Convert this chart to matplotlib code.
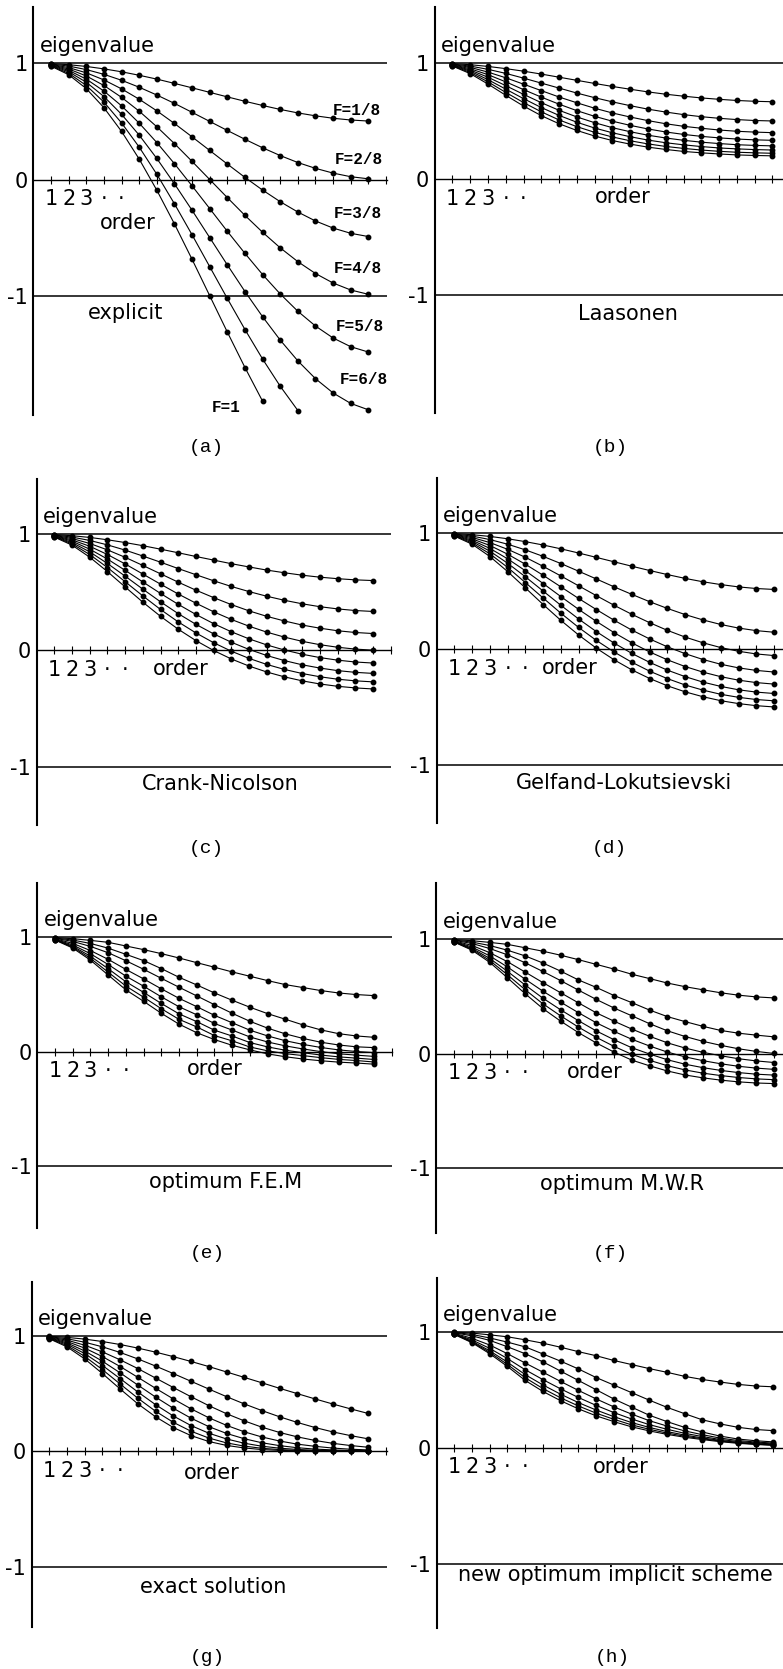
import matplotlib
matplotlib.use('Agg')
import matplotlib.pyplot as plt

W, H = 783, 1669

orders = list(range(1, 20))

# one list per scheme, curves for F = 1/8, 2/8, ... 8/8
explicit = [
    [.997, .988, .973, .952, .927, .897, .864, .827, .789, .750, .711, .673, .637, .603, .573, .548, .527, .512, .503],
    [.994, .976, .946, .905, .854, .794, .727, .655, .578, .500, .422, .346, .273, .206, .146, .096, .055, .024, .006],
    [.991, .963, .918, .857, .780, .691, .591, .482, .367, .250, .133, .018, -.091, -.191, -.280, -.357, -.418, -.463, -.491],
    [.988, .951, .891, .809, .707, .588, .454, .309, .156, 0, -.156, -.309, -.454, -.588, -.707, -.809, -.891, -.951, -.988],
    [.985, .939, .864, .761, .634, .485, .318, .136, -.055, -.250, -.446, -.636, -.818, -.985, -1.134, -1.261, -1.364, -1.439, -1.485],
    [.982, .927, .837, .714, .561, .382, .181, -.037, -.265, -.500, -.735, -.964, -1.181, -1.382, -1.561, -1.714, -1.837, -1.927, -1.982],
    [.978, .914, .809, .666, .487, .279, .045, -.209, -.476, -.750, -1.024, -1.291, -1.545, -1.779, -1.988],
    [.975, .902, .782, .618, .414, .176, -.092, -.382, -.687, -1.000, -1.313, -1.618, -1.908],
]

laasonen = [
    [.997, .988, .973, .954, .932, .907, .880, .853, .826, .800, .776, .753, .733, .716, .701, .689, .679, .672, .668],
    [.994, .976, .948, .913, .872, .829, .786, .743, .703, .667, .634, .604, .579, .557, .539, .525, .514, .506, .502],
    [.991, .965, .924, .875, .820, .764, .709, .659, .612, .571, .536, .505, .478, .456, .439, .424, .413, .406, .401],
    [.988, .953, .902, .840, .773, .708, .647, .591, .542, .500, .464, .433, .407, .386, .369, .356, .346, .339, .335],
    [.985, .942, .880, .807, .732, .660, .594, .537, .487, .444, .409, .379, .355, .335, .319, .307, .297, .291, .287],
    [.982, .932, .859, .777, .695, .618, .550, .491, .441, .400, .366, .337, .314, .296, .281, .269, .261, .255, .251],
    [.979, .921, .840, .749, .661, .581, .511, .453, .404, .364, .331, .304, .282, .265, .251, .240, .232, .227, .223],
    [.976, .911, .821, .724, .631, .548, .478, .420, .372, .333, .302, .276, .256, .239, .227, .217, .209, .204, .201],
]

crank_nicolson = [
    [.997, .988, .973, .953, .929, .902, .872, .841, .809, .778, .747, .719, .692, .669, .648, .631, .618, .608, .602],
    [.994, .976, .947, .909, .864, .813, .760, .705, .652, .600, .551, .507, .467, .432, .402, .377, .358, .344, .336],
    [.991, .964, .921, .866, .802, .732, .660, .588, .519, .455, .395, .341, .294, .254, .219, .192, .170, .155, .146],
    [.988, .952, .897, .826, .745, .658, .571, .486, .407, .333, .267, .209, .158, .115, .079, .050, .028, .012, .003],
    [.985, .941, .872, .787, .690, .590, .491, .397, .310, .231, .161, .100, .048, .004, -.032, -.061, -.083, -.099, -.108],
    [.982, .929, .849, .749, .640, .528, .419, .317, .225, .143, .071, .009, -.043, -.087, -.123, -.151, -.173, -.188, -.197],
    [.979, .918, .826, .714, .592, .470, .353, .246, .151, .067, -.006, -.068, -.120, -.163, -.198, -.226, -.247, -.261, -.270],
    [.976, .907, .803, .679, .547, .416, .294, .183, .085, .000, -.073, -.134, -.185, -.227, -.261, -.288, -.308, -.322, -.331],
]

gelfand = [
    [.997, .988, .973, .953, .928, .899, .866, .830, .792, .754, .716, .679, .644, .611, .582, .558, .538, .524, .516],
    [.994, .976, .946, .906, .857, .801, .739, .673, .606, .538, .473, .410, .352, .299, .253, .214, .183, .161, .147],
    [.991, .964, .920, .862, .793, .715, .632, .547, .462, .379, .301, .229, .163, .105, .056, .015, -.017, -.040, -.054],
    [.988, .952, .895, .820, .733, .638, .538, .438, .342, .250, .165, .089, .021, -.038, -.088, -.129, -.160, -.182, -.196],
    [.985, .940, .870, .780, .677, .567, .454, .344, .240, .143, .055, -.023, -.091, -.149, -.197, -.236, -.266, -.287, -.300],
    [.982, .929, .846, .742, .625, .502, .379, .261, .152, .053, -.036, -.113, -.180, -.236, -.283, -.320, -.349, -.369, -.381],
    [.979, .917, .823, .706, .575, .442, .311, .188, .076, -.024, -.112, -.189, -.253, -.308, -.352, -.388, -.414, -.433, -.444],
    [.976, .906, .800, .670, .529, .386, .249, .123, .009, -.091, -.178, -.252, -.315, -.367, -.409, -.443, -.468, -.486, -.497],
]

optimum_fem = [
    [.997, .988, .973, .956, .924, .892, .857, .819, .778, .738, .697, .659, .621, .586, .560, .534, .513, .499, .490],
    [.994, .976, .946, .905, .851, .796, .726, .650, .583, .513, .449, .388, .332, .283, .233, .190, .157, .137, .125],
    [.991, .964, .920, .865, .795, .720, .641, .563, .487, .410, .335, .265, .205, .155, .115, .082, .058, .042, .035],
    [.987, .947, .884, .807, .719, .636, .549, .466, .393, .317, .252, .187, .137, .095, .063, .036, .015, .001, -.009],
    [.983, .933, .856, .762, .660, .572, .479, .392, .322, .246, .188, .128, .084, .050, .023, .000, -.019, -.031, -.042],
    [.980, .922, .834, .725, .611, .518, .421, .330, .262, .187, .136, .079, .041, .012, -.010, -.030, -.046, -.057, -.069],
    [.978, .914, .816, .695, .573, .476, .375, .282, .216, .140, .094, .040, .007, -.018, -.035, -.053, -.068, -.078, -.091],
    [.976, .906, .800, .670, .540, .440, .335, .240, .165, .105, .055, .015, -.020, -.045, -.065, -.080, -.092, -.100, -.110],
]

optimum_mwr = [
    [.997, .988, .973, .956, .926, .896, .861, .822, .781, .740, .695, .657, .618, .586, .559, .533, .512, .497, .488],
    [.994, .976, .946, .905, .855, .793, .722, .645, .580, .509, .447, .382, .325, .281, .240, .204, .180, .163, .148],
    [.991, .964, .920, .865, .795, .719, .639, .556, .475, .400, .332, .263, .201, .151, .109, .074, .044, .021, .003],
    [.987, .947, .884, .805, .714, .622, .533, .445, .358, .285, .216, .153, .096, .050, .013, -.017, -.043, -.062, -.076],
    [.983, .933, .856, .759, .652, .547, .451, .359, .271, .196, .127, .068, .015, -.027, -.060, -.087, -.109, -.125, -.136],
    [.980, .922, .834, .721, .601, .486, .384, .289, .200, .123, .053, -.002, -.052, -.091, -.121, -.145, -.164, -.178, -.186],
    [.978, .914, .816, .691, .560, .437, .331, .233, .144, .065, -.005, -.057, -.104, -.141, -.169, -.190, -.207, -.219, -.226],
    [.976, .906, .800, .665, .525, .395, .285, .185, .095, .015, -.055, -.105, -.150, -.185, -.210, -.230, -.245, -.255, -.260],
]

exact = [
    [.997, .988, .973, .952, .926, .895, .860, .821, .779, .735, .688, .641, .594, .546, .500, .454, .410, .368, .328],
    [.994, .976, .946, .906, .857, .801, .739, .674, .607, .540, .474, .411, .353, .299, .250, .206, .168, .136, .108],
    [.991, .964, .920, .862, .793, .717, .635, .553, .473, .396, .326, .264, .209, .163, .125, .094, .069, .050, .035],
    [.988, .952, .895, .821, .735, .641, .546, .454, .368, .291, .225, .169, .124, .089, .062, .043, .028, .018, .012],
    [.985, .940, .870, .781, .680, .574, .470, .373, .287, .214, .155, .109, .074, .049, .031, .019, .012, .007, .004],
    [.982, .929, .847, .744, .630, .514, .404, .306, .223, .157, .107, .070, .044, .027, .016, .009, .005, .002, .001],
    [.979, .917, .823, .708, .583, .460, .347, .251, .174, .115, .073, .045, .026, .015, .008, .004, .002, .001, .000],
    [.976, .906, .801, .674, .540, .411, .299, .206, .136, .085, .051, .029, .015, .008, .004, .002, .001, .000, .000],
]

new_implicit = [
    [.997, .988, .973, .956, .930, .901, .866, .828, .793, .752, .717, .682, .650, .615, .588, .566, .546, .532, .525],
    [.994, .976, .946, .910, .869, .808, .746, .679, .605, .540, .475, .410, .348, .293, .240, .205, .176, .157, .147],
    [.991, .964, .925, .870, .810, .740, .660, .580, .500, .420, .350, .280, .225, .175, .135, .100, .075, .060, .050],
    [.986, .943, .885, .810, .730, .651, .571, .494, .421, .352, .290, .233, .187, .145, .112, .083, .062, .049, .040],
    [.982, .929, .856, .768, .672, .587, .507, .433, .365, .303, .248, .199, .159, .124, .096, .071, .053, .041, .032],
    [.979, .918, .835, .737, .630, .541, .461, .389, .325, .268, .217, .175, .139, .109, .084, .063, .046, .035, .027],
    [.978, .911, .822, .717, .603, .510, .430, .360, .298, .245, .197, .159, .126, .099, .077, .057, .042, .031, .023],
    [.976, .905, .810, .700, .580, .485, .405, .335, .275, .225, .180, .145, .115, .090, .070, .052, .038, .028, .020],
]

f_labels = ['F=1/8', 'F=2/8', 'F=3/8', 'F=4/8', 'F=5/8', 'F=6/8', 'F=1']

# layout in pixels: axis x, right end, px per order, top, bottom, y of "1", px per unit
panels = [
    dict(tag='(a)', name='explicit', curves=explicit, box=(33.4, 386.7, 17.63, 7, 415, 63.3, 116.2),
         order_at=(5.35, -0.43), name_at=(5.25, -1.20), cap=(206, 447)),
    dict(tag='(b)', name='Laasonen', curves=laasonen, box=(434.6, 783, 17.78, 7, 413, 63.3, 115.8),
         order_at=(10.57, -0.205), name_at=(10.9, -1.215), cap=(610, 447)),
    dict(tag='(c)', name='Crank-Nicolson', curves=crank_nicolson, box=(36.6, 390.7, 17.72, 479, 825, 534.3, 116.2),
         order_at=(8.15, -0.215), name_at=(10.35, -1.20), cap=(206, 848)),
    dict(tag='(d)', name='Gelfand-Lokutsievski', curves=gelfand, box=(436.6, 783, 17.76, 478, 823, 533.3, 116.0),
         order_at=(7.48, -0.21), name_at=(10.53, -1.20), cap=(609, 848)),
    dict(tag='(e)', name='optimum F.E.M', curves=optimum_fem, box=(37.3, 391.7, 17.74, 882.7, 1228.3, 937.3, 114.3),
         order_at=(10.0, -0.205), name_at=(10.6, -1.195), cap=(207, 1253)),
    dict(tag='(f)', name='optimum M.W.R', curves=optimum_mwr, box=(436.2, 783, 17.78, 882.7, 1232.7, 939.3, 114.5),
         order_at=(8.9, -0.21), name_at=(10.46, -1.19), cap=(610, 1253)),
    dict(tag='(g)', name='exact solution', curves=exact, box=(31.6, 386.7, 17.72, 1281.7, 1626.7, 1336, 115.3),
         order_at=(10.14, -0.237), name_at=(10.25, -1.23), cap=(207, 1657)),
    dict(tag='(h)', name='new optimum implicit scheme', curves=new_implicit, box=(436.6, 783, 17.72, 1278.3, 1628.3, 1331.7, 116.0),
         order_at=(10.38, -0.22), name_at=(10.1, -1.15), cap=(612, 1657)),
]

f_label_at = [(18.34, 0.598), (18.47, 0.168), (18.41, -0.291), (18.41, -0.764),
              (18.52, -1.267), (18.75, -1.725), (10.92, -1.96)]

plt.rcParams['font.family'] = ['DejaVu Sans']
fig = plt.figure(figsize=(W / 100, H / 100), dpi=100)

for p in panels:
    x0, right, scale, top, bottom, y1, unit = p['box']
    ax = fig.add_axes([x0 / W, 1 - bottom / H, (right - x0) / W, (bottom - top) / H])
    xmax = (right - x0) / scale
    ax.set_xlim(0, xmax)
    ax.set_ylim(1 - (bottom - y1) / unit, 1 + (y1 - top) / unit)
    ax.patch.set_visible(False)
    ax.spines['top'].set_visible(False)
    ax.spines['right'].set_visible(False)
    ax.spines['left'].set_linewidth(1.5)
    ax.spines['bottom'].set_position(('data', 0))
    ax.spines['bottom'].set_linewidth(1.0)
    ax.set_xticks(range(1, int(xmax + 0.1) + 1))
    ax.tick_params(axis='x', direction='inout', length=6, width=0.8, labelbottom=False)
    ax.set_yticks([-1, 0, 1])
    ax.set_yticklabels(['-1', '0', '1'])
    ax.tick_params(axis='y', length=0, pad=4, labelsize=15)
    ax.axhline(1, color='k', lw=1.1)
    ax.axhline(-1, color='k', lw=1.1)

    for ys in p['curves']:
        ax.plot(orders[:len(ys)], ys, '-o', color='k', lw=0.8, ms=3.2, clip_on=False)

    ax.text(0.38, 1.095, 'eigenvalue', fontsize=15, ha='left', va='baseline')
    for k, s in zip([1, 2, 3, 4, 5], ['1', '2', '3', '·', '·']):
        ax.text(k, -0.22, s, fontsize=15, ha='center', va='baseline')
    ax.text(*p['order_at'], 'order', fontsize=15, ha='center', va='baseline')
    ax.text(*p['name_at'], p['name'], fontsize=15, ha='center', va='baseline')

    if p['tag'] == '(a)':
        for lab, (lx, ly) in zip(f_labels, f_label_at):
            ax.text(lx, ly, lab, fontsize=11.5, fontweight='bold', family='Liberation Mono',
                    ha='center', va='center')

    fig.text(p['cap'][0] / W, 1 - p['cap'][1] / H, p['tag'], fontsize=14,
             family='Liberation Mono', ha='center', va='center')

fig.savefig('out.png', dpi=100)
